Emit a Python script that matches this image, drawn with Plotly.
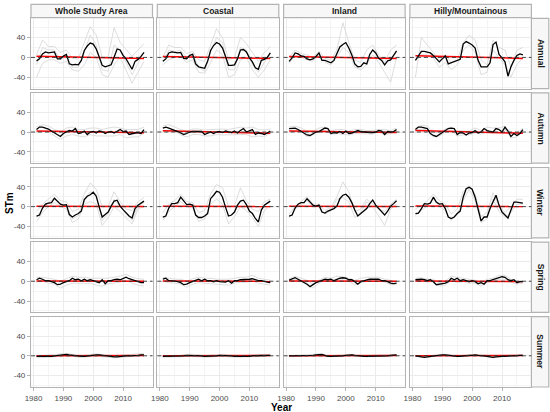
import plotly.graph_objects as go

years = list(range(1981, 2018))
years_g = list(range(1981, 2018, 2))

seasons = ["Annual", "Autumn", "Winter", "Spring", "Summer"]
regions = ["Whole Study Area", "Coastal", "Inland", "Hilly/Mountainous"]

# mean series (black lines)
ann_whole = [-7, -3, 7, 11, 9, 10, 11, -3, -3, 3, 6, -13, -15, -14, -15, -6, 14, 23, 29, 27, 17, 1, -16, -19, -17, -15, 1, 17, 15, 4, -3, -13, -24, -8, -4, 2, 10]
ann_coastal = [-8, -3, 9, 11, 10, 9, 10, -2, -3, 4, 6, -13, -19, -21, -22, -8, 14, 24, 30, 27, 19, 2, -16, -16, -15, -3, 15, 16, 11, -1, -9, -21, -24, -6, -4, 0, 9]
ann_inland = [-8, -1, 9, 7, 3, 2, -3, -5, -3, 2, 9, -6, -6, -8, -11, -6, 7, 21, 26, 30, 19, 5, -13, -19, -18, -11, -13, 6, 15, 9, -2, -6, -15, -7, -5, 4, 13]
ann_hilly = [-6, 2, 12, 12, 11, 9, 4, -2, -9, -3, 3, -13, -11, -9, -7, -4, 27, 32, 29, 25, 19, -6, -19, -19, -19, -11, 26, 31, 6, -1, -9, -38, -19, -6, 4, 7, 5]

aut_whole = [5, 10, 10, 8, 6, 2, -2, -6, -9, -3, 0, 3, 2, 7, -3, -2, 2, -5, 0, 1, -2, 2, 1, -3, 0, 1, -2, 2, 5, 1, 2, -5, -3, -2, -1, -3, 5]
aut_coastal = [8, 10, 8, 6, 3, 1, -2, -5, -3, 0, 1, 1, 0, 1, -5, -2, 0, -3, 0, 1, -1, 2, 0, -1, 2, -2, 3, 7, 0, 2, 5, -5, -2, -3, -5, -2, 2]
aut_inland = [7, 8, 8, 5, 1, -2, -6, -7, -3, 0, 1, 5, 8, 7, -3, -1, -2, 1, -3, 2, -3, -2, 1, 3, 1, 0, 0, -1, -1, 0, 3, 2, -5, 1, 0, 1, 5]
aut_hilly = [5, 10, 10, 9, 7, -3, -7, -9, -5, -2, 3, 7, 8, 7, -5, -1, -2, -6, -2, -1, 3, -2, 0, 7, 3, 1, 0, 7, 5, 0, 10, 2, -9, -3, -7, -3, 5]

win_whole = [-19, -17, -3, 5, 7, 8, 17, 11, 5, 3, 4, -16, -21, -17, -14, -9, 14, 21, 24, 29, 21, -1, -21, -16, -11, 1, 11, 13, 1, -6, -13, -19, -23, -4, 3, 7, 11]
win_coastal = [-21, -19, -3, 6, 6, 8, 19, 11, 4, 5, 3, -17, -22, -22, -19, -14, 16, 23, 31, 29, 19, -1, -19, -17, -11, 3, 11, 13, 4, -9, -14, -24, -31, -7, 3, 7, 11]
win_inland = [-19, -17, -3, 5, 8, 8, 16, 9, 3, 1, 3, -11, -13, -9, -6, -4, 1, 16, 23, 25, 19, 8, -7, -19, -14, -9, -4, 6, 13, 3, -4, -11, -17, -9, 1, 6, 12]
win_hilly = [-14, -13, -4, 6, 5, 7, 19, 9, 5, 6, -4, -21, -24, -21, -14, -9, 19, 36, 39, 35, 19, -4, -29, -21, -21, -4, 11, 23, 3, -11, -17, -23, -7, 9, 9, 8, 7]

spr_whole = [3, 6, 4, 1, 1, -1, -3, -7, -6, -3, -1, 1, 6, 3, 4, 1, 4, 1, 3, 1, -1, -3, 3, -5, 1, 1, 3, 4, 3, 6, 8, 5, 3, 1, -1, -3, -3]
spr_coastal = [4, 6, 1, 1, 0, -1, -3, -7, -6, -3, -1, 1, 4, 1, 4, 1, 1, -1, 1, -1, -1, -2, 1, -4, 1, 1, 3, 3, 3, 4, 5, 3, 1, 1, -1, -2, -3]
spr_inland = [2, 5, 7, 4, 1, -2, -6, -11, -7, -3, -1, 1, 4, 3, 4, 1, 4, 6, 7, 6, 3, 3, -1, -6, -1, 1, 3, 4, 4, 4, 4, 1, 1, -1, -4, -5, -4]
spr_hilly = [3, 4, 4, 3, 1, 3, -1, -7, -6, -5, -4, -1, 6, 3, 6, 1, 3, 1, -1, 1, -1, -5, -3, -6, 1, 1, 3, 6, 8, 9, 8, 3, 1, 3, -3, -1, -1]

sum_whole = [-1, -1, -2, -2, -1, -1, 0, 1, 2, 2, 3, 2, 1, 0, -1, -1, -1, 0, 1, 1, 2, 2, 1, 0, -1, -2, -2, -2, -1, -1, 0, 0, 0, 1, 1, 2, 2]
sum_coastal = [-1, -1, -1, -1, -1, -1, 0, 0, 1, 1, 1, 1, 0, 0, -1, -1, 0, 0, 0, 1, 1, 1, 0, 0, -1, -1, -2, -1, -1, -1, 0, 0, 0, 0, 1, 1, 1]
sum_inland = [0, 0, 0, 0, 0, 0, 0, 1, 1, 2, 2, 3, 1, -1, -1, -1, -1, 0, 0, 1, 2, 2, 1, 0, 0, -1, -1, -1, -1, 0, 0, 0, 0, 0, 1, 1, 2]
sum_hilly = [0, -1, -2, -3, -2, -1, 0, 1, 2, 2, 2, 1, 0, 0, -1, -1, 0, 0, 1, 1, 2, 1, 1, 0, -1, -2, -3, -2, -1, -1, -1, 0, 0, 0, 1, 1, 1]

# individual station series (grey lines), sampled every other year
ann_whole_grey = [
    [5, 35, 22, 22, 10, 15, -2, -3, 30, 62, 45, 0, 2, 60, 30, 15, 2, 15, 28],
    [-40, -12, -5, -5, -12, -8, -25, -28, -15, 10, 0, -35, -40, -15, 0, -25, -52, -30, -8],
    [-15, 20, 15, 15, -5, 5, -20, -20, 10, 45, 25, -25, -28, 25, 15, -10, -35, -12, 10],
]
ann_coastal_grey = [
    [0, 25, 20, 20, 8, 12, -5, -8, 25, 58, 40, -5, 0, 40, 28, 10, -8, 10, 22],
    [-15, -5, 0, 0, -10, -5, -30, -32, -10, 15, 5, -40, -35, -5, 0, -25, -40, -25, -5],
    [-10, 15, 12, 14, 0, 8, -20, -28, 10, 40, 30, -25, -25, 20, 15, -15, -30, -10, 10],
]
ann_inland_grey = [
    [0, 15, 8, 5, 0, 12, -2, -5, 15, 70, 30, -5, -10, 15, 25, 5, -10, 15, 25],
    [-12, 5, 0, -5, -8, 5, -10, -15, 0, 20, 10, -20, -25, -15, 5, -10, -30, -50, 0],
]
ann_hilly_grey = [
    [-40, 40, 25, 10, -5, 5, -10, -5, 30, 45, 35, -5, -15, 35, 20, 15, -20, 15, 20],
    [-5, 5, 5, 0, -20, -10, -25, -15, 15, 25, 10, -35, -30, 15, 0, -15, -40, -15, 0],
]

aut_whole_grey = [
    [10, 15, 12, 5, 0, 8, 10, 5, 5, 8, 8, 5, 8, 10, 8, 5, 5, 5, 10],
    [0, 2, 0, -8, -15, -8, -5, -8, -10, -5, -8, -8, -8, -8, -5, -12, -10, -10, -2],
]
aut_coastal_grey = [
    [12, 15, 10, 5, 2, 6, 6, 4, 5, 6, 6, 5, 8, 10, 8, 10, 5, 4, 6],
    [2, 3, 2, -6, -10, -5, -5, -8, -8, -5, -6, -6, -6, -5, -5, -10, -8, -10, -2],
]
aut_inland_grey = [
    [10, 12, 8, 2, 2, 8, 10, 2, 5, 5, 2, 5, 5, 3, 3, 5, 5, 3, 8],
    [3, 4, 2, -10, -6, 2, 3, -5, -3, -5, -6, -3, -3, -4, -4, 0, -6, -3, 2],
]
aut_hilly_grey = [
    [8, 14, 12, 0, -2, 6, 10, 2, 2, 2, 8, 3, 10, 8, 8, 12, -4, -3, 8],
    [2, 6, 4, -10, -8, 0, 4, -8, -6, -6, -2, -4, 0, -2, 0, 6, -12, -10, 2],
]

win_whole_grey = [
    [-10, 5, 15, 25, 12, 10, -10, -5, 25, 48, 35, 0, 0, 30, 10, -5, -8, 10, 18],
    [-30, -12, 0, 8, 0, -5, -32, -25, 5, 10, 5, -38, -22, 0, -10, -22, -35, -5, 0],
    [-22, -5, 8, 18, 5, 2, -25, -18, 15, 30, 25, -28, -15, 15, 0, -15, -28, 2, 8],
]
win_coastal_grey = [
    [-12, 5, 12, 25, 10, 8, -12, -8, 25, 45, 38, 0, 2, 38, 12, -5, -10, 10, 15],
    [-28, -10, 0, 10, 0, -3, -30, -25, 5, 15, 5, -35, -20, 0, -8, -22, -40, -8, 2],
]
win_inland_grey = [
    [-15, 0, 10, 20, 5, 5, -8, -2, 20, 50, 30, -10, -5, 15, 5, -5, -10, 5, 15],
    [-22, -5, 5, 12, 0, 0, -15, -8, 15, 18, 10, -22, -12, 10, 0, -18, -38, -5, 5],
]
win_hilly_grey = [
    [-5, 2, 12, 25, 12, 5, -15, -5, 30, 42, 25, -20, -12, 28, 0, -12, 0, 15, 15],
    [-18, -8, 2, 15, 0, -8, -28, -15, 12, 35, 12, -32, -25, 15, -10, -22, -12, 5, 5],
]

spr_whole_grey = [
    [8, 8, 6, 4, 0, 5, 10, 8, 8, 6, 6, 5, 6, 8, 10, 14, 8, 5, 4],
    [-2, 0, -4, -6, -14, -8, -4, -4, -4, -4, -8, -10, -5, -3, -2, 2, -4, -8, -10],
]
spr_coastal_grey = [
    [8, 6, 4, 4, 0, 5, 8, 6, 6, 4, 4, 4, 6, 8, 8, 12, 6, 4, 2],
    [0, -3, -4, -6, -12, -6, -3, -4, -4, -5, -6, -8, -4, -2, -2, 0, -4, -6, -8],
]
spr_inland_grey = [
    [5, 10, 6, 2, -6, 2, 8, 6, 10, 9, 6, 2, 6, 8, 8, 8, 4, 2, -1],
    [0, 4, 2, -4, -14, -4, 2, 0, 2, 3, 0, -8, -3, 0, 2, 1, -2, -7, -7],
]
spr_hilly_grey = [
    [6, 7, 4, 4, -3, 0, 10, 8, 6, 3, 2, -2, 4, 6, 12, 12, 4, 0, 2],
    [0, 1, -2, -1, -10, -8, 2, -3, -1, -4, -4, -10, -2, 0, 4, 4, -2, -6, -4],
]

sum_whole_grey = [
    [1, 1, 1, 2, 4, 5, 3, 1, 1, 3, 4, 2, 1, 0, 1, 2, 2, 3, 5],
    [-3, -4, -3, -2, 0, 0, -1, -3, -3, -1, 0, -2, -3, -4, -3, -2, -2, -1, 0],
]
sum_coastal_grey = [
    [1, 0, 0, 1, 3, 3, 2, 0, 1, 2, 3, 2, 0, 0, 1, 2, 2, 3, 3],
    [-3, -3, -3, -2, -1, -1, -2, -3, -2, -1, -1, -2, -3, -3, -2, -2, -2, -1, -1],
]
sum_inland_grey = [
    [1, 1, 1, 2, 3, 4, 1, 0, 1, 2, 3, 2, 1, 0, 1, 1, 1, 2, 3],
    [-1, -1, -1, 0, 1, 2, -2, -2, -1, 0, 1, 0, -1, -2, -1, -1, -1, 0, 1],
]
sum_hilly_grey = [
    [1, 0, -1, 1, 3, 3, 1, 0, 1, 2, 3, 2, 0, -1, 0, 1, 1, 2, 2],
    [-1, -3, -4, -1, 1, 1, -1, -2, -1, 0, 1, 0, -2, -4, -2, -1, -1, 0, 0],
]

# linear trend (red line), value at first and last year, rows = seasons
trend_start = [[2.5, 2, 2, 3.5], [2, 2.5, 2, 3], [0.5, 0.5, 0.5, 1], [0.5, 0.5, 0.5, 0.5], [0, 0, 0, 0]]
trend_end = [[-2, -2, -2, -2], [-1.5, -2.5, -1, -2.5], [0, 0, 0, 0], [0, 0, 0, -0.5], [0.5, 0.5, 0.5, 0.5]]

means = [
    [ann_whole, ann_coastal, ann_inland, ann_hilly],
    [aut_whole, aut_coastal, aut_inland, aut_hilly],
    [win_whole, win_coastal, win_inland, win_hilly],
    [spr_whole, spr_coastal, spr_inland, spr_hilly],
    [sum_whole, sum_coastal, sum_inland, sum_hilly],
]
greys = [
    [ann_whole_grey, ann_coastal_grey, ann_inland_grey, ann_hilly_grey],
    [aut_whole_grey, aut_coastal_grey, aut_inland_grey, aut_hilly_grey],
    [win_whole_grey, win_coastal_grey, win_inland_grey, win_hilly_grey],
    [spr_whole_grey, spr_coastal_grey, spr_inland_grey, spr_hilly_grey],
    [sum_whole_grey, sum_coastal_grey, sum_inland_grey, sum_hilly_grey],
]

W, H = 550, 412
col_left = [31, 157.3, 283.6, 409.9]
col_w = 121.5
row_top = [18.3, 92.9, 167.5, 242.1, 316.7]
row_h = 70.3
font = "Liberation Sans, Arial, sans-serif"
border = "#B3B3B3"

fig = go.Figure()
layout = dict(
    width=W, height=H, margin=dict(l=0, r=0, t=0, b=0, autoexpand=False),
    paper_bgcolor="white", plot_bgcolor="white", showlegend=False,
    font=dict(family=font, size=8, color="#4D4D4D"),
)
shapes = []
annotations = []

for r, season in enumerate(seasons):
    for c, region in enumerate(regions):
        i = r * 4 + c + 1
        sfx = "" if i == 1 else str(i)
        xa, ya = "x" + sfx, "y" + sfx
        for g in greys[r][c]:
            fig.add_trace(go.Scatter(x=years_g, y=g, mode="lines", xaxis=xa, yaxis=ya,
                                     line=dict(color="#CFCFCF", width=0.7), hoverinfo="skip"))
        fig.add_trace(go.Scatter(x=[years[0], years[-1]], y=[trend_start[r][c], trend_end[r][c]],
                                 mode="lines", xaxis=xa, yaxis=ya,
                                 line=dict(color="#FF0000", width=1.5)))
        fig.add_trace(go.Scatter(x=years, y=means[r][c], mode="lines", xaxis=xa, yaxis=ya,
                                 line=dict(color="black", width=1.3)))
        x0 = col_left[c] / W
        x1 = (col_left[c] + col_w) / W
        y1 = 1 - row_top[r] / H
        y0 = 1 - (row_top[r] + row_h) / H
        bottom = r == len(seasons) - 1
        left = c == 0
        layout["xaxis" + sfx] = dict(
            domain=[x0, x1], anchor=ya, range=[1979.15, 2019.85], automargin=False,
            tickvals=[1980, 1990, 2000, 2010], showticklabels=bottom,
            ticks="outside" if bottom else "", ticklen=3, tickcolor=border,
            showgrid=True, gridcolor="#EBEBEB", gridwidth=0.6, zeroline=False,
            minor=dict(tickvals=[1985, 1995, 2005, 2015], showgrid=True,
                       gridcolor="#F4F4F4", gridwidth=0.4),
            showline=True, mirror=True, linecolor=border, linewidth=1.2,
            tickfont=dict(size=8, color="#4D4D4D"),
        )
        layout["yaxis" + sfx] = dict(
            domain=[y0, y1], anchor=xa, range=[-63, 79], automargin=False,
            tickvals=[-40, 0, 40], ticktext=["-40", "0", "40"], showticklabels=left,
            ticks="outside" if left else "", ticklen=3, tickcolor=border,
            showgrid=True, gridcolor="#EBEBEB", gridwidth=0.6, zeroline=False,
            minor=dict(tickvals=[-60, -20, 20, 60], showgrid=True,
                       gridcolor="#F4F4F4", gridwidth=0.4),
            showline=True, mirror=True, linecolor=border, linewidth=1.2,
            tickfont=dict(size=8, color="#4D4D4D"),
        )
        shapes.append(dict(type="line", xref=xa + " domain", yref=ya, x0=0, x1=1, y0=0, y1=0,
                           line=dict(color="#333333", width=0.9, dash="4px,3px")))

# column strips on top
for c, region in enumerate(regions):
    x0 = col_left[c] / W
    x1 = (col_left[c] + col_w) / W
    shapes.append(dict(type="rect", xref="paper", yref="paper", x0=x0, x1=x1,
                       y0=1 - 17.6 / H, y1=1 - 4.3 / H, fillcolor="#F7F7F7",
                       line=dict(color=border, width=1.2), layer="below"))
    annotations.append(dict(xref="paper", yref="paper", x=(x0 + x1) / 2, y=1 - 11 / H,
                            xanchor="center", yanchor="middle",
                            text="<b>%s</b>" % region, showarrow=False,
                            font=dict(size=8.5, color="#1A1A1A")))

# row strips on the right
for r, season in enumerate(seasons):
    y1 = 1 - row_top[r] / H
    y0 = 1 - (row_top[r] + row_h) / H
    sx0 = (col_left[3] + col_w) / W
    shapes.append(dict(type="rect", xref="paper", yref="paper", x0=sx0, x1=548.8 / W,
                       y0=y0, y1=y1, fillcolor="#F7F7F7",
                       line=dict(color=border, width=1.2), layer="below"))
    annotations.append(dict(xref="paper", yref="paper", x=540.5 / W, y=(y0 + y1) / 2,
                            xanchor="center", yanchor="middle",
                            text="<b>%s</b>" % season, showarrow=False, textangle=90,
                            font=dict(size=8.5, color="#1A1A1A")))

annotations.append(dict(xref="paper", yref="paper", x=9 / W, y=1 - 203 / H, text="<b>STm</b>",
                        xanchor="center", yanchor="middle",
                        showarrow=False, textangle=-90, font=dict(size=10, color="black")))
annotations.append(dict(xref="paper", yref="paper", x=281 / W, y=1 - 407.5 / H, text="<b>Year</b>",
                        xanchor="center", yanchor="middle",
                        showarrow=False, font=dict(size=10, color="black")))

layout["shapes"] = shapes
layout["annotations"] = annotations
fig.update_layout(**layout)
# the page's default body margin would shift the figure by 8px
fig.write_html("out.html", config={"displayModeBar": False},
               post_script="document.body.style.margin='0';")
